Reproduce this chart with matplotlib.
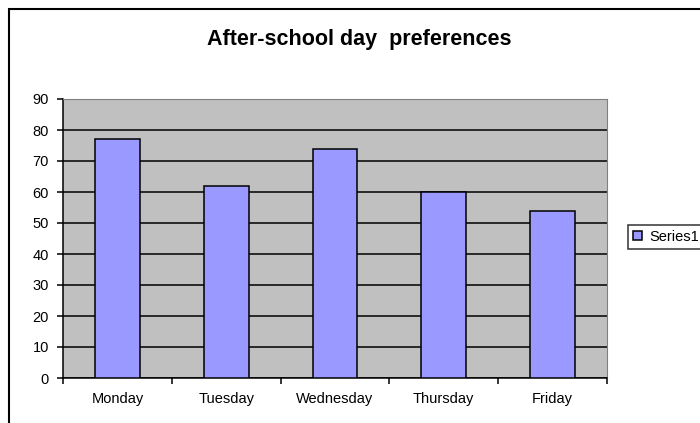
import matplotlib.pyplot as plt
from matplotlib.patches import Rectangle
import numpy as np

plt.rcParams["font.family"] = ["Liberation Sans", "DejaVu Sans"]

# Chart data
days = ["Monday", "Tuesday", "Wednesday", "Thursday", "Friday"]
preferences = [77, 62, 74, 60, 54]
series_name = "Series1"
y_ticks = list(range(0, 100, 10))

fig = plt.figure(figsize=(7, 4.23), dpi=100)
fig.patch.set_facecolor("white")

# outer chart border (runs off the right/bottom edge like the original)
fig.add_artist(Rectangle((9 / 700, -0.05), 1.1, 1 - 9 / 423 + 0.05,
                         transform=fig.transFigure, fill=False,
                         edgecolor="black", linewidth=1.5))

ax = fig.add_axes([63 / 700, 1 - 378 / 423, (607 - 63) / 700, (378 - 99) / 423])
ax.set_facecolor("#C0C0C0")

x = np.arange(len(days))
ax.bar(x, preferences, width=0.41, color="#9999FF", edgecolor="black",
       linewidth=1.1, label=series_name, zorder=3)

ax.set_xlim(-0.5, len(days) - 0.5)
ax.set_ylim(0, 90)
ax.set_yticks(y_ticks)
ax.yaxis.grid(True, color="black", linewidth=1.1, zorder=1)
ax.set_axisbelow(True)

ax.set_xticks(x)
ax.set_xticklabels(days, fontsize=10.5)
ax.tick_params(axis="x", which="major", length=0, pad=10)
ax.set_xticks(np.arange(-0.5, len(days), 1.0), minor=True)
ax.tick_params(axis="x", which="minor", length=4, width=1.1, direction="out")
ax.tick_params(axis="y", length=4, width=1.1, direction="out", labelsize=10.5, pad=6)

for side in ["top", "right"]:
    ax.spines[side].set_color("#808080")
    ax.spines[side].set_linewidth(0.8)
for side in ["left", "bottom"]:
    ax.spines[side].set_color("black")
    ax.spines[side].set_linewidth(1.1)

fig.text(359 / 700, 1 - 39 / 423, "After-school day  preferences",
         ha="center", va="center", fontsize=15.5, fontweight="bold")

leg = fig.legend(loc="center left", bbox_to_anchor=(628 / 700, 1 - 237 / 423),
                 fontsize=10.5, frameon=True, fancybox=False, handlelength=0.6,
                 handleheight=0.6, handletextpad=0.5, borderpad=0.35,
                 borderaxespad=0)
leg.get_frame().set_edgecolor("black")
leg.get_frame().set_linewidth(1.1)

fig.savefig("out.png", dpi=100)
